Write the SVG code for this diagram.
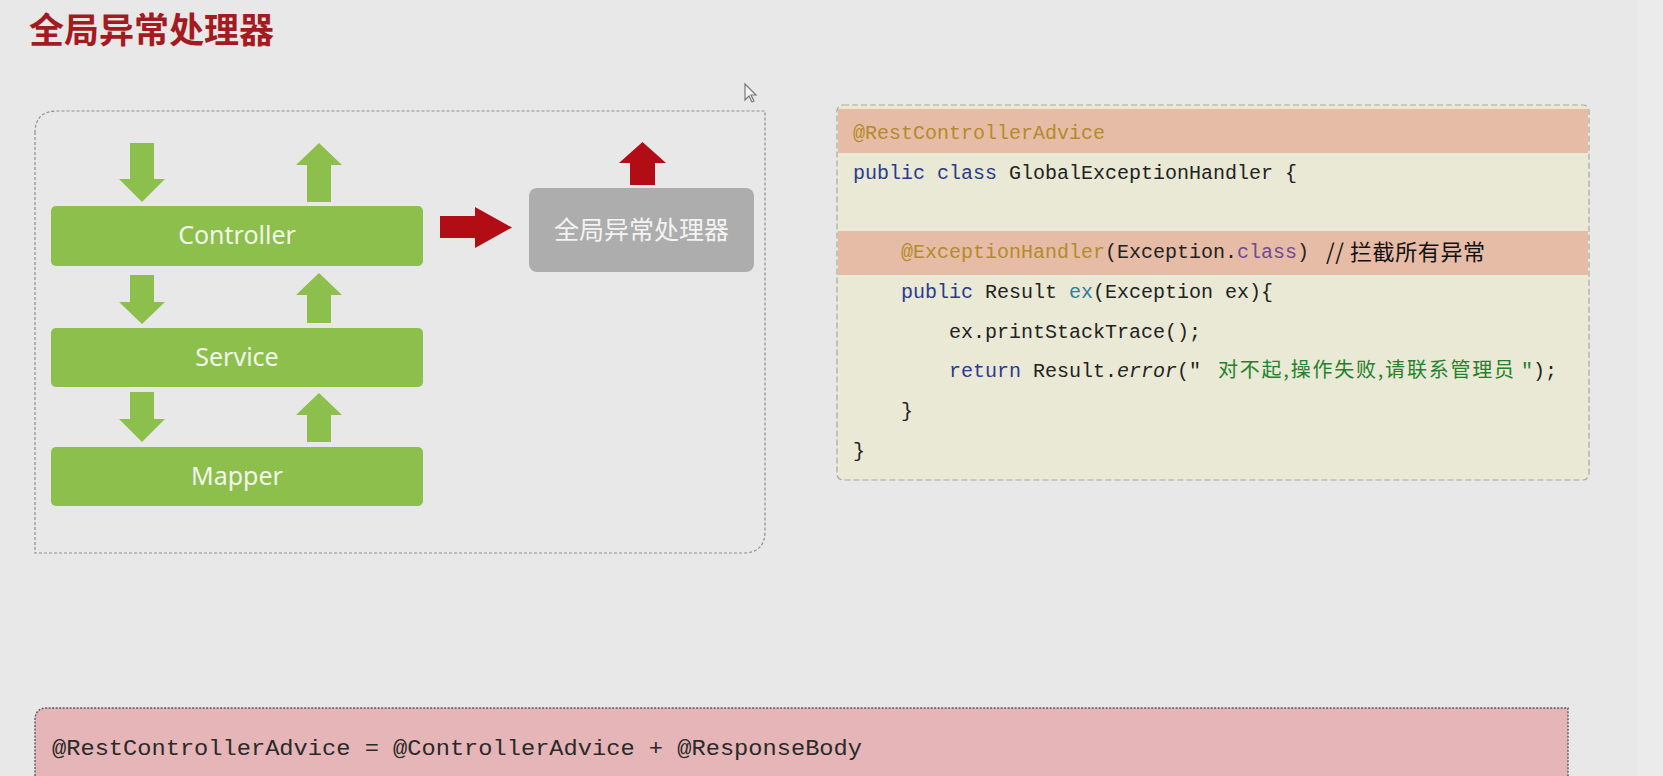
<svg xmlns="http://www.w3.org/2000/svg" width="1663" height="776" viewBox="0 0 1663 776">
  <style>
    .box-green { fill: #8cbf4c; }
    .lbl-green { font-family: "Noto Sans", "Open Sans", sans-serif; font-size: 25px; fill: #f2f7ea; text-anchor: middle; }
    .arrow-green { fill: #8cbf4c; }
    .arrow-red { fill: #b20d15; }
    .code { font-family: "Liberation Mono", "DejaVu Sans Mono", monospace; font-size: 20px; fill: #222222; white-space: pre; }
    .kw { fill: #2b3a8c; }
    .ann { fill: #b58a2c; }
    .purple { fill: #6f4a98; }
    .teal { fill: #2b7f9c; }
    .str { font-family: "Noto Sans CJK SC", "Noto Sans", sans-serif; font-size: 20px; fill: #23802b; }
    .cmt { font-family: "Noto Sans CJK SC", "Noto Sans", sans-serif; font-size: 22px; fill: #111111; }
  </style>

  <rect x="0" y="0" width="1663" height="776" fill="#e8e8e8"/>
  <rect x="1638" y="0" width="25" height="776" fill="#ebebeb"/>

  <g id="title">
    <text x="29" y="43" font-family="Noto Sans CJK SC, sans-serif" font-size="35" font-weight="bold" fill="#a31b21">全局异常处理器</text>
  </g>

  <g id="container">
    <path d="M 35,133 Q 35,111 57,111 H 765 V 531 Q 765,553 743,553 H 35 Z" fill="none" stroke="#8e8e8e" stroke-width="1.2" stroke-dasharray="3 2"/>
  </g>

  <g id="cursor">
    <path d="M 745,84 L 745,100 L 749,96 L 752,102 L 754,101 L 751,95 L 756,95 Z" fill="#f4f4f4" stroke="#777777" stroke-width="1.2"/>
  </g>

  <g id="controller">
    <rect class="box-green" x="51" y="206" width="372" height="60" rx="5"/>
    <text class="lbl-green" x="237" y="244">Controller</text>
  </g>
  <g id="service">
    <rect class="box-green" x="51" y="328" width="372" height="59" rx="5"/>
    <text class="lbl-green" x="237" y="366">Service</text>
  </g>
  <g id="mapper">
    <rect class="box-green" x="51" y="447" width="372" height="59" rx="5"/>
    <text class="lbl-green" x="237" y="485">Mapper</text>
  </g>
  <g id="global-handler">
    <rect x="529" y="188" width="225" height="84" rx="8" fill="#adadad"/>
    <text x="641.5" y="239" font-family="Noto Sans CJK SC, sans-serif" font-size="25" fill="#f3f3f3" text-anchor="middle">全局异常处理器</text>
  </g>

  <g id="connectors">
    <polygon class="arrow-green" points="130,143 154,143 154,179 165,179 142,202 119,179 130,179"/>
    <polygon class="arrow-green" points="130,275 154,275 154,302 165,302 142,324 119,302 130,302"/>
    <polygon class="arrow-green" points="130,392 154,392 154,419 165,419 142,442 119,419 130,419"/>
    <polygon class="arrow-green" points="307,202 331,202 331,165 342,165 319,143 296,165 307,165"/>
    <polygon class="arrow-green" points="307,323 331,323 331,295 342,295 319,273 296,295 307,295"/>
    <polygon class="arrow-green" points="307,442 331,442 331,415 342,415 319,393 296,415 307,415"/>
    <polygon class="arrow-red" points="440,216 475,216 475,207 512,227.5 475,248 475,238 440,238"/>
    <polygon class="arrow-red" points="630,185 655,185 655,163 666,163 642.5,142 619,163 630,163"/>
  </g>

  <g id="code-box">
    <rect x="837" y="105" width="752" height="375" rx="6" fill="#e9e9d5" stroke="#a9aa9c" stroke-width="1.2" stroke-dasharray="6 3"/>
    <rect x="838" y="109" width="750" height="44" fill="#e6bca6"/>
    <rect x="838" y="231" width="750" height="44" fill="#e6bca6"/>
    <text class="code" x="853" y="139"><tspan class="ann">@RestControllerAdvice</tspan></text>
    <text class="code" x="853" y="179"><tspan class="kw">public class</tspan> GlobalExceptionHandler {</text>
    <text class="code" x="901" y="258"><tspan class="ann">@ExceptionHandler</tspan>(Exception.<tspan class="purple">class</tspan>)</text>
    <text class="cmt" x="1326" y="260" textLength="159" lengthAdjust="spacing">// 拦截所有异常</text>
    <text class="code" x="901" y="298"><tspan class="kw">public</tspan> Result <tspan class="teal">ex</tspan>(Exception ex){</text>
    <text class="code" x="949" y="338">ex.printStackTrace();</text>
    <text class="code" x="949" y="377"><tspan class="kw">return</tspan> Result.<tspan font-style="italic">error</tspan>("</text>
    <text class="str" x="1218" y="377" textLength="296" lengthAdjust="spacing">对不起,操作失败,请联系管理员</text>
    <text class="code" x="1521" y="377"><tspan fill="#23802b">"</tspan>);</text>
    <text class="code" x="901" y="417">}</text>
    <text class="code" x="853" y="457">}</text>
  </g>

  <g id="note">
    <path d="M 35,776 V 720 Q 35,708 47,708 H 1568 V 776" fill="#e6b5b7" stroke="#5a5a5a" stroke-width="1.4" stroke-dasharray="2 1.5"/>
    <text x="52" y="755" font-family="Liberation Mono, DejaVu Sans Mono, monospace" font-size="22" fill="#2a2a2a" textLength="810" lengthAdjust="spacingAndGlyphs">@RestControllerAdvice = @ControllerAdvice + @ResponseBody</text>
  </g>
</svg>
